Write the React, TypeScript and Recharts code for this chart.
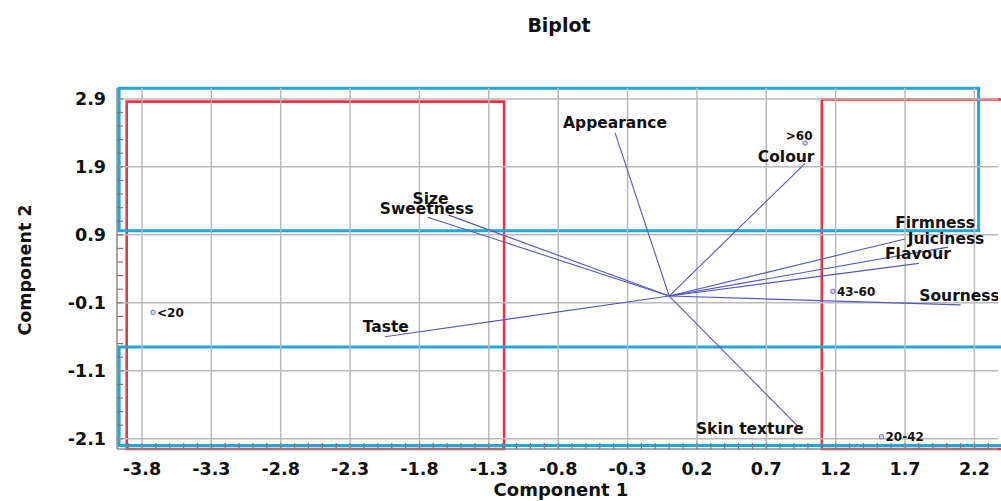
import React from 'react'
import { ComposedChart, ReferenceArea, ReferenceLine, Scatter, XAxis, YAxis } from 'recharts'

const FONT = '"DejaVu Sans", "Liberation Sans", sans-serif'

// axis ticks
const xTicks = [-3.8, -3.3, -2.8, -2.3, -1.8, -1.3, -0.8, -0.3, 0.2, 0.7, 1.2, 1.7, 2.2]
const yTicks = [2.9, 1.9, 0.9, -0.1, -1.1, -2.1]
const xMinorTicks = Array.from({ length: 63 }, (_, i) => Math.round((-3.9 + i * 0.1) * 10) / 10)
const yMinorTicks = Array.from({ length: 26 }, (_, i) => Math.round((-2.1 + i * 0.2) * 10) / 10)

// variable loadings (vectors from origin)
const vectorNames = ['Appearance', 'Colour', 'Size', 'Sweetness', 'Taste', 'Firmness', 'Juiciness', 'Flavour', 'Sourness', 'Skin texture']
const vectorX = [-0.39, 0.98, -1.59, -1.74, -2.05, 1.7, 2.01, 1.8, 2.1, 0.92]
const vectorY = [2.4, 1.95, 1.19, 1.16, -0.6, 0.84, 0.72, 0.48, -0.13, -1.9]

// age group scores
const groupNames = ['<20', '>60', '43-60', '20-42']
const groupX = [-3.72, 0.98, 1.18, 1.53]
const groupY = [-0.24, 2.25, 0.07, -2.07]

// highlight boxes
const redBoxes = [
  { x1: -3.91, x2: -1.19, y1: -2.25, y2: 2.86 },
  { x1: 1.1, x2: 2.45, y1: -2.25, y2: 2.89 },
]
const blueBoxes = [
  { x1: -3.965, x2: 2.23, y1: 0.96, y2: 3.055 },
  { x1: -3.965, x2: 2.45, y1: -2.2, y2: -0.75 },
]

// label placement (pixels, relative to the point)
const vectorLabelPos: Record<string, [number, number]> = {
  Appearance: [0, -10],
  Colour: [-19, -7],
  Size: [-18, -17],
  Sweetness: [-1, -9],
  Taste: [1, -10],
  Firmness: [30, -17],
  Juiciness: [-2, -9],
  Flavour: [-1, -10],
  Sourness: [-1, -9],
  'Skin texture': [-47, 3],
}
const groupLabelPos: Record<string, [number, number, 'start' | 'middle']> = {
  '<20': [4, 0, 'start'],
  '>60': [-6, -7, 'middle'],
  '43-60': [4, 0, 'start'],
  '20-42': [4, 0, 'start'],
}

const vectorData = vectorNames.map((name, i) => ({ name, x: vectorX[i], y: vectorY[i] }))
const groupData = groupNames.map((name, i) => ({ name, x: groupX[i], y: groupY[i] }))

const isMajor = (list: number[], v: number) => list.some((t) => Math.abs(t - v) < 1e-6)

const tickStroke = '#7a7a7a'
const labelStyle = { fontFamily: FONT, fontWeight: 700, fill: '#111' }

const BottomTick = (props: any) => {
  const { x, y, payload } = props
  const v = payload.value
  return (
    <g>
      <line x1={x} x2={x} y1={y} y2={y - 6} stroke={tickStroke} strokeWidth={1.2} />
      {isMajor(xTicks, v) && (
        <text x={x} y={y + 26} textAnchor="middle" fontSize={17.5} {...labelStyle}>
          {v.toFixed(1)}
        </text>
      )}
    </g>
  )
}

const TopTick = (props: any) => {
  const { x, y } = props
  return <line x1={x} x2={x} y1={y} y2={y + 6} stroke={tickStroke} strokeWidth={1.2} />
}

const LeftTick = (props: any) => {
  const { x, y, payload } = props
  const v = payload.value
  return (
    <g>
      <line x1={x} x2={x + 6} y1={y} y2={y} stroke={tickStroke} strokeWidth={1.2} />
      {isMajor(yTicks, v) && (
        <text x={x - 11} y={y} dy="0.36em" textAnchor="end" fontSize={17.5} {...labelStyle}>
          {v.toFixed(1)}
        </text>
      )}
    </g>
  )
}

const RightTick = (props: any) => {
  const { x, y } = props
  return <line x1={x} x2={x - 8} y1={y} y2={y} stroke={tickStroke} strokeWidth={1.2} />
}

const VectorLabel = (props: any) => {
  const { cx, cy, payload } = props
  const [dx, dy] = vectorLabelPos[payload.name] || [0, -10]
  return (
    <text x={cx + dx} y={cy + dy} dy="0.36em" textAnchor="middle" fontSize={15.5} {...labelStyle}>
      {payload.name}
    </text>
  )
}

const GroupMarker = (props: any) => {
  const { cx, cy, payload } = props
  const [dx, dy, anchor] = groupLabelPos[payload.name] || [4, 0, 'start']
  return (
    <g>
      <rect x={cx - 2} y={cy - 2} width={4} height={4} rx={1} fill="#dcdcf5" stroke="#6a6acc" strokeWidth={1} />
      <text x={cx + dx} y={cy + dy} dy="0.36em" textAnchor={anchor} fontSize={12} {...labelStyle}>
        {payload.name}
      </text>
    </g>
  )
}

export default function App() {
  return (
    <div style={{ position: 'absolute', left: 0, top: 0, width: 1001, height: 501, background: '#fff' }}>
      <ComposedChart width={1001} height={501} margin={{ top: 88, right: 3, bottom: 0, left: 0 }}>
        <XAxis
          type="number"
          dataKey="x"
          domain={[-3.98, 2.37]}
          allowDataOverflow
          ticks={xMinorTicks}
          interval={0}
          tick={<BottomTick />}
          tickLine={false}
          tickSize={0}
          tickMargin={0}
          height={52}
          axisLine={{ stroke: '#8a8a8a', strokeWidth: 1.5 }}
        />
        <XAxis
          xAxisId="top"
          orientation="top"
          type="number"
          dataKey="x"
          domain={[-3.98, 2.37]}
          allowDataOverflow
          ticks={xMinorTicks}
          interval={0}
          tick={<TopTick />}
          tickLine={false}
          tickSize={0}
          tickMargin={0}
          height={0}
          axisLine={{ stroke: '#8a8a8a', strokeWidth: 1.5 }}
        />
        <YAxis
          type="number"
          dataKey="y"
          domain={[-2.25, 3.06]}
          allowDataOverflow
          ticks={yMinorTicks}
          interval={0}
          tick={<LeftTick />}
          tickLine={false}
          tickSize={0}
          tickMargin={0}
          width={117}
          axisLine={{ stroke: '#8a8a8a', strokeWidth: 1.5 }}
        />
        <YAxis
          yAxisId="right"
          orientation="right"
          type="number"
          dataKey="y"
          domain={[-2.25, 3.06]}
          allowDataOverflow
          ticks={yMinorTicks}
          interval={0}
          tick={<RightTick />}
          tickLine={false}
          tickSize={0}
          tickMargin={0}
          width={0}
          axisLine={{ stroke: '#8a8a8a', strokeWidth: 1.5 }}
        />

        {xTicks.map((v) => (
          <ReferenceLine key={'gx' + v} x={v} stroke="#b9b9b9" strokeWidth={1.5} />
        ))}
        {yTicks.map((v) => (
          <ReferenceLine key={'gy' + v} y={v} stroke="#b9b9b9" strokeWidth={1.5} />
        ))}

        {vectorData.map((d) => (
          <ReferenceLine
            key={'v' + d.name}
            segment={[
              { x: 0, y: 0 },
              { x: d.x, y: d.y },
            ]}
            stroke="#5656bc"
            strokeWidth={1.1}
            ifOverflow="visible"
          />
        ))}

        {redBoxes.map((b, i) => (
          <ReferenceArea
            key={'r' + i}
            x1={b.x1}
            x2={b.x2}
            y1={b.y1}
            y2={b.y2}
            fill="none"
            fillOpacity={0}
            stroke="#f2323e"
            strokeWidth={2.6}
            ifOverflow="visible"
          />
        ))}
        {blueBoxes.map((b, i) => (
          <ReferenceArea
            key={'b' + i}
            x1={b.x1}
            x2={b.x2}
            y1={b.y1}
            y2={b.y2}
            fill="none"
            fillOpacity={0}
            stroke="#22a6d8"
            strokeWidth={3}
            ifOverflow="visible"
          />
        ))}

        <Scatter data={vectorData} shape={<VectorLabel />} isAnimationActive={false} />
        <Scatter data={groupData} shape={<GroupMarker />} isAnimationActive={false} />
      </ComposedChart>

      <svg width={1001} height={501} style={{ position: 'absolute', left: 0, top: 0, pointerEvents: 'none' }}>
        <text x={559} y={32} textAnchor="middle" fontSize={19} {...labelStyle}>
          Biplot
        </text>
        <text x={561} y={496} textAnchor="middle" fontSize={18} {...labelStyle}>
          Component 1
        </text>
        <text x={31} y={270} textAnchor="middle" fontSize={17.5} transform="rotate(-90 31 270)" {...labelStyle}>
          Component 2
        </text>
      </svg>
    </div>
  )
}
